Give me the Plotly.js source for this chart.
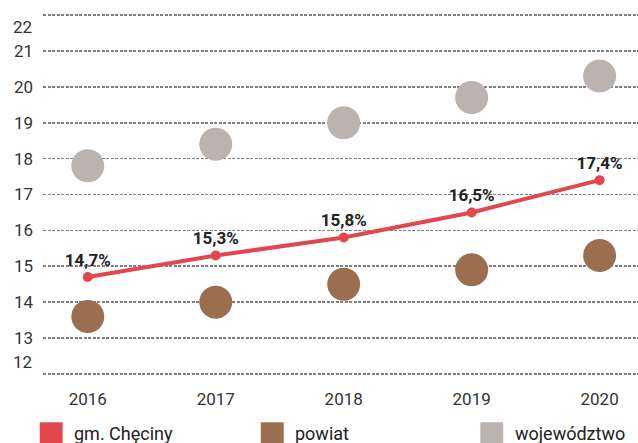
<!DOCTYPE html>
<html>
<head>
<meta charset="utf-8">
<script src="https://cdn.plot.ly/plotly-3.0.1.min.js"></script>
<style>html,body{margin:0;padding:0;background:#fff;}#chart{width:638px;height:443px;}</style>
</head>
<body>
<div id="chart"></div>
<script>
const years = ['2016', '2017', '2018', '2019', '2020'];
const gmina = [14.7, 15.3, 15.8, 16.5, 17.4];
const powiat = [13.6, 14.0, 14.5, 14.9, 15.3];
const wojewodztwo = [17.8, 18.4, 19.0, 19.7, 20.3];
const seriesNames = ['gm. Chęciny', 'powiat', 'województwo'];
const seriesColors = ['#e2474e', '#9c6e50', '#bbb3af'];
const yTicks = [12, 13, 14, 15, 16, 17, 18, 19, 20, 21, 22];

const fmt = v => v.toFixed(1).replace('.', ',') + '%';
const FONT = 'Roboto, sans-serif';

const traces = [
  {x: years, y: wojewodztwo, type: 'scatter', mode: 'markers', name: seriesNames[2],
   marker: {size: 33, color: seriesColors[2]}, hoverinfo: 'none'},
  {x: years, y: powiat, type: 'scatter', mode: 'markers', name: seriesNames[1],
   marker: {size: 33, color: seriesColors[1]}, hoverinfo: 'none'},
  {x: years, y: gmina, type: 'scatter', mode: 'lines+markers+text', name: seriesNames[0],
   line: {color: seriesColors[0], width: 4}, marker: {size: 10, color: seriesColors[0]},
   text: gmina.map(fmt), textposition: 'top center',
   textfont: {family: FONT, size: 17, color: '#222', weight: 'bold'},
   hoverinfo: 'none'}
];

const inner = yTicks.slice(1, -1);
const annotations = [
  {xref: 'paper', yref: 'y', x: 0, y: 21.68, xanchor: 'right', xshift: -9, text: String(yTicks[yTicks.length-1]),
   showarrow: false, font: {family: FONT, size: 17, color: '#333'}},
  {xref: 'paper', yref: 'y', x: 0, y: 12.33, xanchor: 'right', xshift: -9, text: String(yTicks[0]),
   showarrow: false, font: {family: FONT, size: 17, color: '#333'}}
];
const shapes = [];
const legX = [0.0, 0.3715, 0.7405];
seriesNames.forEach((n, i) => {
  shapes.push({type: 'rect', xref: 'paper', yref: 'paper', x0: legX[i] - 0.0055, x1: legX[i] + 0.033,
    y0: -0.2, y1: -0.131, fillcolor: seriesColors[i], line: {width: 0}});
  annotations.push({xref: 'paper', yref: 'paper', x: legX[i] + 0.049, y: -0.163, xanchor: 'left', yanchor: 'middle',
    text: n, showarrow: false, font: {family: FONT, size: 18, color: '#222'}});
});

const layout = {
  width: 638, height: 443,
  margin: {l: 43, r: 0, t: 14, b: 68},
  paper_bgcolor: '#fff', plot_bgcolor: '#fff',
  showlegend: false,
  xaxis: {type: 'category', range: [-0.35, 4.3], showgrid: false, zeroline: false, showline: false,
    ticks: '', tickfont: {family: FONT, size: 17, color: '#333'}, ticklabelstandoff: 12},
  yaxis: {range: [11.97, 22.03], tickvals: yTicks, ticktext: yTicks.map(v => inner.includes(v) ? String(v) : ''),
    showgrid: true, gridcolor: '#808080', gridwidth: 1.7, griddash: '3px,1.5px',
    zeroline: false, showline: false, ticks: '', ticklabelstandoff: 9,
    tickfont: {family: FONT, size: 17, color: '#333'}},
  annotations: annotations,
  shapes: shapes
};

Plotly.newPlot('chart', traces, layout, {staticPlot: true, displayModeBar: false});
</script>
</body>
</html>
